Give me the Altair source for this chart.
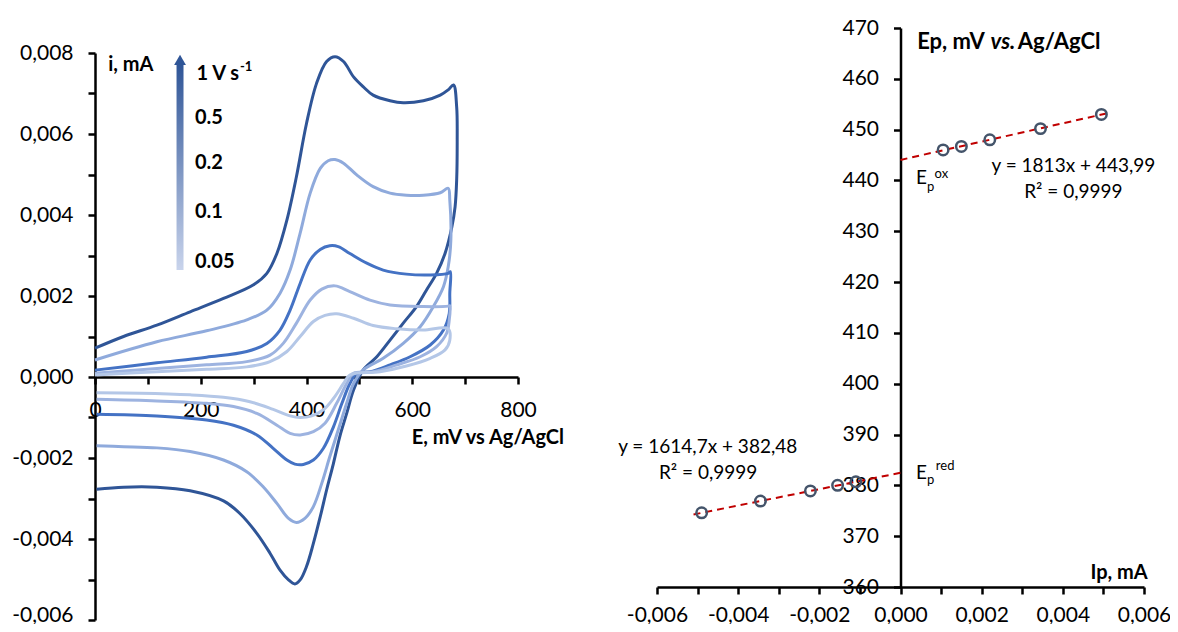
import altair as alt
import pandas as pd

# ---------------- Cyclic voltammograms (E in mV, i in mA) ----------------
RATES = ["1", "0.5", "0.2", "0.1", "0.05"]
COLORS = ["#2F5597", "#8FAADC", "#4472C4", "#9DB3E0", "#B4C7E7"]

E_1 = [0, 54, 117, 180, 243, 299, 325, 344, 363, 381, 400, 419, 438, 454, 470, 489, 507, 526, 558, 583, 621, 653, 668, 678,
       684, 685, 684, 681, 675, 662, 646, 627, 608, 583, 558, 533, 507,
       489, 476, 463, 451, 438, 426, 413, 400, 388, 378, 366, 350, 331, 306, 274, 243, 180, 117, 54, 3]
I_1 = [0.00071, 0.00100, 0.00128, 0.00161, 0.00194, 0.00227, 0.00256, 0.00305, 0.00388, 0.00495, 0.00626, 0.00725,
       0.00779, 0.00791, 0.00779, 0.00741, 0.00717, 0.00696, 0.00682, 0.00677, 0.00682, 0.00696, 0.00709, 0.00721,
       0.00667, 0.00585, 0.00486, 0.00420, 0.00371, 0.00305, 0.00256, 0.00215, 0.00174, 0.00133, 0.00091, 0.00050, 0.00017,
       -0.00032, -0.0009, -0.00147, -0.00213, -0.00279, -0.00345, -0.00411, -0.00468, -0.00501, -0.00511, -0.00501,
       -0.00477, -0.00435, -0.00386, -0.00337, -0.00306, -0.00281, -0.00272, -0.00272, -0.00277]

E_05 = [0, 117, 211, 287, 325, 350, 369, 388, 407, 426, 441, 454, 470, 495, 526, 558, 589, 621, 653, 668,
        671, 673, 668, 659, 640, 615, 583, 545, 507,
        489, 476, 460, 444, 429, 413, 397, 381, 366, 344, 318, 287, 243, 180, 117, 54, 3]
I_05 = [0.00042, 0.00087, 0.00114, 0.00141, 0.00165, 0.00207, 0.00264, 0.00355, 0.00454, 0.00515, 0.00534, 0.00537,
        0.00528, 0.00499, 0.00470, 0.00454, 0.00449, 0.00449, 0.00455, 0.00466,
        0.00437, 0.00338, 0.00272, 0.00223, 0.00174, 0.00124, 0.00083, 0.00046, 0.00017,
        -0.00016, -0.00065, -0.00131, -0.00197, -0.00262, -0.0032, -0.00349, -0.00359, -0.00349, -0.00312, -0.00271,
        -0.00234, -0.00205, -0.00184, -0.00175, -0.00172, -0.0017]

E_02 = [0, 117, 211, 287, 325, 350, 369, 388, 407, 426, 444, 460, 482, 514, 545, 589, 634, 668,
        672, 671, 670, 659, 634, 596, 558, 520,
        495, 482, 467, 451, 432, 413, 394, 378, 363, 337, 306, 262, 211, 117, 3]
I_02 = [0.00017, 0.00035, 0.00049, 0.00063, 0.00083, 0.00116, 0.00165, 0.00231, 0.00289, 0.00315, 0.00324, 0.00322,
        0.00305, 0.00281, 0.00264, 0.00254, 0.00252, 0.00256,
        0.0026, 0.00207, 0.00157, 0.00116, 0.00079, 0.0005, 0.0003, 0.00013,
        0.00009, -0.00016, -0.00065, -0.00123, -0.00176, -0.00205, -0.00216, -0.00215, -0.00205, -0.00176, -0.00143,
        -0.00119, -0.00106, -0.00096, -0.00092]

E_01 = [0, 117, 211, 287, 331, 356, 381, 407, 429, 454, 482, 520, 558, 621, 668,
        671, 670, 665, 646, 615, 571, 526,
        489, 476, 457, 435, 413, 388, 369, 344, 306, 262, 211, 117, 3]
I_01 = [0.00009, 0.00021, 0.0003, 0.00038, 0.00054, 0.00083, 0.00133, 0.0019, 0.00217, 0.00225, 0.00211, 0.0019,
        0.00178, 0.00174, 0.00175,
        0.00176, 0.00141, 0.00108, 0.00075, 0.0005, 0.0003, 0.00013,
        0.00009, -0.00016, -0.00065, -0.00114, -0.00135, -0.00143, -0.00139, -0.00119, -0.0009, -0.00073, -0.00065,
        -0.00059, -0.00055]

E_005 = [0, 117, 211, 287, 331, 363, 388, 413, 435, 457, 489, 526, 571, 621, 668,
         671, 662, 634, 589, 539,
         482, 470, 451, 432, 410, 388, 369, 337, 293, 243, 180, 85, 3]
I_005 = [0.00005, 0.00013, 0.00019, 0.00025, 0.00038, 0.00063, 0.001, 0.00137, 0.00152, 0.00156, 0.00145, 0.00127,
         0.00119, 0.00116, 0.00119,
         0.00091, 0.00067, 0.00046, 0.00027, 0.00013,
         0.00005, -0.00016, -0.00053, -0.00081, -0.00096, -0.001, -0.00096, -0.0008, -0.00061, -0.0005, -0.00044,
         -0.0004, -0.00039]

# ---------------- Peak potential vs peak current ----------------
IP_OX = [0.00105, 0.0015, 0.0022, 0.00345, 0.00495]
EP_OX = [446.0, 446.7, 448.0, 450.2, 453.0]
IP_RED = [-0.0049, -0.00345, -0.00222, -0.00155, -0.0011]
EP_RED = [374.6, 376.9, 378.9, 380.0, 380.7]

# tick values / labels
L_XTICKS = [0, 100, 200, 300, 400, 500, 600, 700, 800]
L_YTICKS = [-0.006, -0.005, -0.004, -0.003, -0.002, -0.001, 0.0, 0.001, 0.002, 0.003, 0.004, 0.005, 0.006, 0.007, 0.008]
R_XTICKS = [-0.006, -0.005, -0.004, -0.003, -0.002, -0.001, 0.0, 0.001, 0.002, 0.003, 0.004, 0.005, 0.006]
R_YTICKS = [360, 370, 380, 390, 400, 410, 420, 430, 440, 450, 460, 470]

# ---------------- tables ----------------
rows = []
for rate, es, ii in zip(RATES, [E_1, E_05, E_02, E_01, E_005], [I_1, I_05, I_02, I_01, I_005]):
    for k, (e, c) in enumerate(zip(es, ii)):
        rows.append({"rate": rate, "E": e, "i": c, "k": k})
cv = pd.DataFrame(rows)

pk = pd.DataFrame({
    "Ip": IP_OX + IP_RED,
    "Ep": EP_OX + EP_RED,
    "s": ["ox"] * len(IP_OX) + ["red"] * len(IP_RED),
})

# ---------------- layout (plot-area pixels) ----------------
W, H = 1162, 616
FONT = "Lato"
R_ZERO = 892.5  # plot-x of the right panel's vertical axis


def lsx():
    return alt.Scale(domain=[0, 800], range=[87, 510], nice=False, zero=False)


def lsy():
    return alt.Scale(domain=[-0.006, 0.008], range=[612, 45], nice=False, zero=False)


def rsx():
    return alt.Scale(domain=[-0.006, 0.006], range=[649, 1136], nice=False, zero=False)


def rsy():
    return alt.Scale(domain=[360, 470], range=[579, 20], nice=False, zero=False)


AX = dict(domainColor="black", domainWidth=2.5, tickColor="black", tickWidth=2.5, tickSize=7,
          labelFont=FONT, labelFontSize=21, labelColor="black", grid=False, labelOverlap=False,
          labelFlush=False, labelPadding=15)
AXB = dict(AX, labelPadding=10)

COMMA = "(datum.value < 0 ? '-' : '') + replace(format(abs(datum.value), '.3f'), '.', ',')"
EVEN = "abs(round(datum.value * 1000)) % 2 === 0"

left_xaxis = alt.Axis(orient="bottom", offset=369 - H, values=L_XTICKS,
                      labelExpr="datum.value % 200 === 0 ? datum.label : ''", **AX)
left_yaxis = alt.Axis(orient="left", offset=-87, values=L_YTICKS,
                      labelExpr=f"{EVEN} ? {COMMA} : ''",
                      labelOffset={"condition": {"test": "datum.value < -0.0055", "value": -5}, "value": 0},
                      **AX)
right_xaxis = alt.Axis(orient="bottom", offset=579 - H, values=R_XTICKS,
                       labelExpr=f"{EVEN} ? {COMMA} : ''", **AXB)
right_yaxis = alt.Axis(orient="left", offset=-R_ZERO, values=R_YTICKS, **AX)


def LX(f, axis=None):
    return alt.X(f, type="quantitative", scale=lsx(), axis=axis, title=None)


def LY(f, axis=None):
    return alt.Y(f, type="quantitative", scale=lsy(), axis=axis, title=None)


def RX(f, axis=None):
    return alt.X(f, type="quantitative", scale=rsx(), axis=axis, title=None)


def RY(f, axis=None):
    return alt.Y(f, type="quantitative", scale=rsy(), axis=axis, title=None)


layers = []

# CV curves
layers.append(
    alt.Chart(cv).mark_line(strokeWidth=3, interpolate="catmull-rom").encode(
        x=LX("E", left_xaxis),
        y=LY("i", left_yaxis),
        color=alt.Color("rate:N", scale=alt.Scale(domain=RATES, range=COLORS), legend=None),
        detail="rate:N",
        order="k:Q",
    )
)

# gradient arrow (scan-rate legend)
arrow = pd.DataFrame({"x1": [154.2], "x2": [167.4], "y1": [0.00264], "y2": [0.00772]})
layers.append(
    alt.Chart(arrow).mark_rect(
        color=alt.Gradient(gradient="linear",
                           stops=[alt.GradientStop(color="#C9D4EC", offset=0),
                                  alt.GradientStop(color="#2F5597", offset=1)],
                           x1=0, x2=0, y1=1, y2=0)
    ).encode(x=LX("x1"), x2="x2", y=LY("y1"), y2="y2")
)
head = pd.DataFrame({"x": [160.8], "y": [0.00783]})
layers.append(
    alt.Chart(head).mark_point(shape="triangle-up", filled=True, size=140, color="#2F5597", opacity=1)
    .encode(x=LX("x"), y=LY("y"))
)

# left annotations
lt = pd.DataFrame({
    "t": ["i, mA", "1 V s", "0.5", "0.2", "0.1", "0.05", "E, mV vs Ag/AgCl"],
    "x": [25, 192, 189, 189, 189, 189, 599],
    "y": [0.0077, 0.00749, 0.0064, 0.00528, 0.00407, 0.00284, -0.00151],
})
layers.append(
    alt.Chart(lt).mark_text(font=FONT, fontSize=20, fontWeight="bold", align="left", baseline="middle", color="black")
    .encode(x=LX("x"), y=LY("y"), text="t:N")
)
sup = pd.DataFrame({"t": ["-1"], "x": [274], "y": [0.00765]})
layers.append(
    alt.Chart(sup).mark_text(font=FONT, fontSize=13, fontWeight="bold", align="left", baseline="middle", color="black")
    .encode(x=LX("x"), y=LY("y"), text="t:N")
)

# right panel: trend lines (regression) and points
for s, ext in [("ox", [0.0, 0.0051]), ("red", [-0.0051, 0.0])]:
    layers.append(
        alt.Chart(pk).transform_filter(alt.datum.s == s)
        .transform_regression("Ip", "Ep", extent=ext)
        .mark_line(color="#C00000", strokeWidth=2, strokeDash=[7, 5])
        .encode(x=RX("Ip"), y=RY("Ep"))
    )
layers.append(
    alt.Chart(pk).mark_point(shape="circle", filled=False, size=110, strokeWidth=2.5, color="#44546A", opacity=1)
    .encode(x=RX("Ip", right_xaxis), y=RY("Ep", right_yaxis))
)

# right annotations
rb = pd.DataFrame({
    "t": ["Ep, mV", "Ag/AgCl"],
    "x": [0.00041, 0.00289],
    "y": [467.25, 467.25],
})
layers.append(
    alt.Chart(rb).mark_text(font=FONT, fontSize=22, fontWeight="bold", align="left", baseline="middle", color="black")
    .encode(x=RX("x"), y=RY("y"), text="t:N")
)
ri = pd.DataFrame({"t": ["vs."], "x": [0.00222], "y": [467.25]})
layers.append(
    alt.Chart(ri).mark_text(font=FONT, fontSize=22, fontWeight="bold", fontStyle="italic", align="left",
                            baseline="middle", color="black")
    .encode(x=RX("x"), y=RY("y"), text="t:N")
)
ipt = pd.DataFrame({"t": ["Ip, mA"], "x": [0.00468], "y": [362.76]})
layers.append(
    alt.Chart(ipt).mark_text(font=FONT, fontSize=20, fontWeight="bold", align="left", baseline="middle", color="black")
    .encode(x=RX("x"), y=RY("y"), text="t:N")
)
eq = pd.DataFrame({
    "t": ["y = 1813x + 443,99", "R² = 0,9999", "y = 1614,7x + 382,48", "R² = 0,9999"],
    "x": [0.00426, 0.00426, -0.00475, -0.00474],
    "y": [442.84, 437.73, 387.55, 382.43],
})
layers.append(
    alt.Chart(eq).mark_text(font=FONT, fontSize=19, align="center", baseline="middle", color="black")
    .encode(x=RX("x"), y=RY("y"), text="t:N")
)
epE = pd.DataFrame({"t": ["E", "E"], "x": [0.00038, 0.00038], "y": [440.4, 382.43]})
layers.append(
    alt.Chart(epE).mark_text(font=FONT, fontSize=19, align="left", baseline="middle", color="black")
    .encode(x=RX("x"), y=RY("y"), text="t:N")
)
epS = pd.DataFrame({
    "t": ["p", "ox", "p", "red"],
    "x": [0.00065, 0.00084, 0.00065, 0.00087],
    "y": [438.8, 441.3, 381.05, 383.81],
})
layers.append(
    alt.Chart(epS).mark_text(font=FONT, fontSize=13, align="left", baseline="middle", color="black")
    .encode(x=RX("x"), y=RY("y"), text="t:N")
)

chart = (
    alt.layer(*layers)
    .resolve_scale(x="independent", y="independent")
    .properties(width=W, height=H, autosize=alt.AutoSizeParams(type="none"), padding=0)
    .configure_view(strokeWidth=0)
)

chart.save("out.html", embed_options={"renderer": "svg", "actions": False})
